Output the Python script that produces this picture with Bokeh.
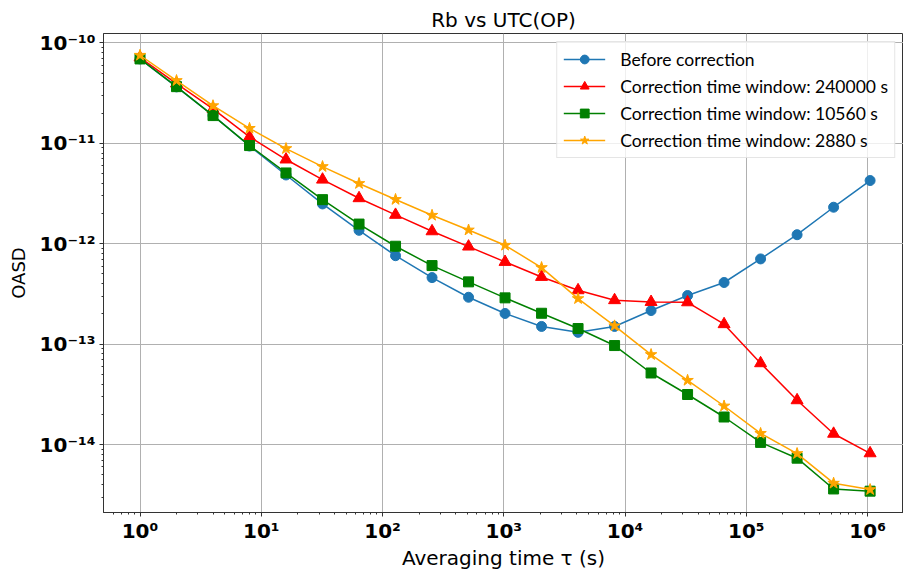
import numpy as np
from bokeh.plotting import figure
from bokeh.models import FixedTicker, CustomJSTickFormatter, Range1d
from bokeh.embed import file_html
from bokeh.resources import INLINE

tau = [1, 2, 4, 8, 16, 32, 64, 128, 256, 512, 1024, 2048, 4096, 8192,
       16384, 32768, 65536, 131072, 262144, 524288, 1048576]

before = [6.93e-11, 3.65e-11, 1.90e-11, 9.4e-12, 4.84e-12, 2.49e-12, 1.36e-12,
          7.6e-13, 4.6e-13, 2.93e-13, 2.02e-13, 1.50e-13, 1.31e-13, 1.50e-13,
          2.16e-13, 3.05e-13, 4.11e-13, 7.06e-13, 1.23e-12, 2.31e-12, 4.26e-12]

win_240000 = [7.15e-11, 3.94e-11, 2.20e-11, 1.16e-11, 6.9e-12, 4.35e-12, 2.84e-12,
              1.94e-12, 1.33e-12, 9.37e-13, 6.59e-13, 4.67e-13, 3.44e-13, 2.74e-13,
              2.63e-13, 2.61e-13, 1.58e-13, 6.45e-14, 2.76e-14, 1.28e-14, 8.18e-15]

win_10560 = [6.93e-11, 3.67e-11, 1.89e-11, 9.5e-12, 5.07e-12, 2.75e-12, 1.57e-12,
             9.44e-13, 6.06e-13, 4.17e-13, 2.89e-13, 2.03e-13, 1.43e-13, 9.68e-14,
             5.16e-14, 3.15e-14, 1.88e-14, 1.05e-14, 7.31e-15, 3.61e-15, 3.43e-15]

win_2880 = [7.54e-11, 4.22e-11, 2.37e-11, 1.41e-11, 8.87e-12, 5.87e-12, 3.98e-12,
            2.76e-12, 1.92e-12, 1.37e-12, 9.66e-13, 5.79e-13, 2.84e-13, 1.52e-13,
            7.87e-14, 4.36e-14, 2.42e-14, 1.29e-14, 8.13e-15, 4.12e-15, 3.56e-15]

x_major = [1e0, 1e1, 1e2, 1e3, 1e4, 1e5, 1e6]
y_major = [1e-14, 1e-13, 1e-12, 1e-11, 1e-10]

p = figure(width=903, height=572, output_backend="svg", toolbar_location=None,
           x_axis_type="log", y_axis_type="log",
           x_range=Range1d(10 ** -0.301, 10 ** 6.296),
           y_range=Range1d(10 ** -14.677, 10 ** -9.906),
           title="Rb vs UTC(OP)",
           min_border_left=103, min_border_right=0, min_border_top=33,
           min_border_bottom=60)

p.title.align = "center"
p.title.text_font = "DejaVu Sans"
p.title.text_font_size = "20px"
p.title.text_font_style = "normal"
p.title.text_color = "black"
p.title.standoff = 4
p.title.offset = 0

series = [
    (before, "Before correction", "#1f77b4", "circle", 10),
    (win_240000, "Correction time window: 240000 s", "red", "triangle", 12),
    (win_10560, "Correction time window: 10560 s", "green", "square", 10),
    (win_2880, "Correction time window: 2880 s", "orange", "star", 12),
]
for ys, label, color, marker, size in series:
    p.line(tau, ys, line_color=color, line_width=1.5, legend_label=label)
    p.scatter(tau, ys, marker=marker, size=size, fill_color=color,
              line_color=color, legend_label=label)

x_minor = [m * 10 ** e for e in range(-1, 7) for m in range(2, 10)]
y_minor = [m * 10.0 ** e for e in range(-15, -9) for m in range(2, 10)]
p.xaxis.ticker = FixedTicker(ticks=x_major, minor_ticks=x_minor)
p.yaxis.ticker = FixedTicker(ticks=y_major, minor_ticks=y_minor)

fmt = CustomJSTickFormatter(code="""
const sup = {'-':'\u207b','0':'\u2070','1':'\u00b9','2':'\u00b2','3':'\u00b3','4':'\u2074','5':'\u2075','6':'\u2076','7':'\u2077','8':'\u2078','9':'\u2079'};
const e = Math.round(Math.log10(tick));
return '10' + String(e).split('').map(c => sup[c]).join('');
""")
p.xaxis.formatter = fmt
p.yaxis.formatter = fmt

for ax in (p.xaxis, p.yaxis):
    ax.major_label_text_font = "DejaVu Sans"
    ax.major_label_text_font_style = "bold"
    ax.major_label_text_font_size = "20px"
    ax.major_label_text_color = "black"
    ax.axis_label_text_font = "DejaVu Sans"
    ax.axis_label_text_font_style = "normal"
    ax.axis_label_text_color = "black"
    ax.axis_line_color = "#333333"
    ax.major_tick_line_color = "#333333"
    ax.minor_tick_line_color = "#333333"
    ax.major_tick_out = 4
    ax.major_tick_in = 0
    ax.minor_tick_out = 2
    ax.minor_tick_in = 0

p.xaxis.axis_label = "Averaging time τ (s)"
p.yaxis.axis_label = "OASD"
p.xaxis.axis_label_text_font_size = "20px"
p.yaxis.axis_label_text_font_size = "18px"
p.xaxis.major_label_standoff = 2
p.yaxis.major_label_standoff = 4
p.xaxis.axis_label_standoff = 0
p.yaxis.axis_label_standoff = 8

p.xgrid.ticker = FixedTicker(ticks=x_major)
p.ygrid.ticker = FixedTicker(ticks=y_major)
p.grid.grid_line_color = "#b0b0b0"
p.grid.grid_line_width = 1

p.outline_line_color = "#333333"
p.background_fill_color = "white"

lg = p.legend[0]
lg.location = "top_right"
lg.margin = 8
lg.padding = 6
lg.spacing = 5
lg.label_text_font = "Lato"
lg.label_text_font_size = "17.5px"
lg.label_text_color = "black"
lg.glyph_width = 42
lg.glyph_height = 22
lg.label_standoff = 15
lg.border_line_color = "#cccccc"
lg.border_line_width = 1
lg.background_fill_alpha = 0.8

open("out.html", "w").write(file_html(p, INLINE))
